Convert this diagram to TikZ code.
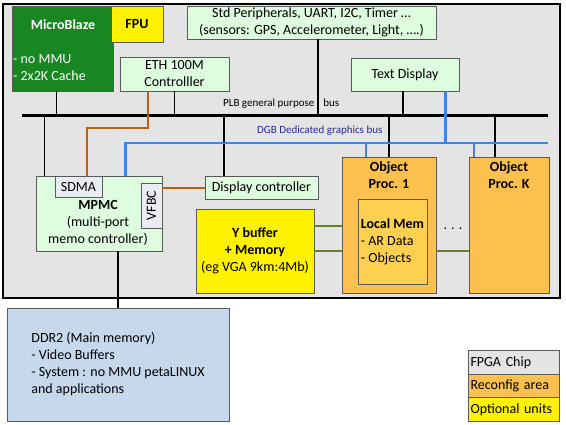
\documentclass[tikz,border=0pt]{standalone}
\usepackage{fontspec}
\setmainfont{Carlito}
\usetikzlibrary{positioning}
\definecolor{chipgray}{RGB}{228,228,228}
\definecolor{mbgreen}{RGB}{24,135,34}
\definecolor{pastelgreen}{RGB}{222,252,222}
\definecolor{sdmagray}{RGB}{234,236,244}
\definecolor{reconf}{RGB}{252,192,78}
\definecolor{localmem}{RGB}{254,208,80}
\definecolor{ddrblue}{RGB}{198,217,236}
\definecolor{ethbrown}{RGB}{184,98,18}
\definecolor{dgbblue}{RGB}{62,130,236}
\definecolor{linkolive}{RGB}{104,126,48}
\definecolor{dgbnavy}{RGB}{40,40,150}
\definecolor{boxline}{RGB}{90,90,90}
\newcommand\diatext{\fontsize{14}{17}\selectfont}
\newcommand\diasmall{\fontsize{11}{13}\selectfont}
\begin{document}
\begin{tikzpicture}[x=1pt,y=-1pt,
    every node/.style={font=\diatext,inner sep=2pt},
    box/.style={draw=boxline,line width=0.8pt,align=center},
    pgreen/.style={box,fill=pastelgreen,inner ysep=1pt},
    legbox/.style={box,minimum width=91,minimum height=23.5,inner xsep=2.5pt,text width=86,align=left},
    plbline/.style={line width=3pt},
    tapline/.style={line width=1.6pt},
    dgbline/.style={dgbblue,line width=2.6pt},
    ethline/.style={ethbrown,line width=2pt},
    memline/.style={linkolive,line width=2pt}]
  \useasboundingbox (0,0) rectangle (566,424);
  \node[box,fill=chipgray,draw=black,line width=2.5pt,minimum width=557,minimum height=294] (chip) at (281.5,151) {};
  \coordinate (plbW) at (22,115);
  \coordinate (plbE) at (548,115);
  \coordinate (dgbE) at (548,143);

  \node[box,fill=mbgreen,minimum width=101,minimum height=85] (mb) at (62.5,48.5) {};
  \node[font=\diatext\bfseries,text=white] (mbname) at (63,25) {MicroBlaze};
  \node[text=white,anchor=west,align=left,inner sep=1pt] (mbnotes) at (12,67.5) {- no MMU\\- 2x2K Cache};
  \node[box,fill=yellow,minimum width=52,minimum height=36,font=\diatext\bfseries] (fpu) at (137,24) {FPU};
  \node[pgreen,minimum width=109,minimum height=34] (eth) at (174.5,74) {ETH 100M\\Controlller};
  \node[pgreen,minimum width=249,minimum height=33] (periph) at (311.5,22.5) {Std Peripherals, UART, I2C, Timer …\\(sensors: GPS, Accelerometer, Light, ….)};
  \node[pgreen,minimum width=108,minimum height=33] (txtdisp) at (405,74.5) {Text Display};

  \node[font=\diasmall,anchor=west] (plblabel) at (221,104) {PLB general purpose\hspace{9pt}bus};
  \node[font=\diasmall,text=dgbnavy,anchor=west] (dgblabel) at (255,131) {DGB Dedicated graphics bus};

  \node[pgreen,minimum width=126,minimum height=75] (mpmc) at (99,213.5) {};
  \node[align=center] (mpmcname) at (98,223) {\textbf{MPMC}\\(multi-port\\memo controller)};
  \node[box,fill=sdmagray,minimum width=47,minimum height=21] (sdma) at (78.5,186.5) {SDMA};
  \node[box,fill=sdmagray,minimum width=45,minimum height=21,rotate=90] (vfbc) at (151.5,205.5) {VFBC};
  \node[pgreen,minimum width=113,minimum height=23] (dispctl) at (261.5,187.5) {Display controller};
  \node[box,fill=yellow,minimum width=118,minimum height=84] (ybuf) at (255,251) {\textbf{Y buffer}\\\textbf{+ Memory}\\(eg VGA 9km:4Mb)};

  \node[box,fill=reconf,minimum width=94,minimum height=136] (obj1) at (389,225) {};
  \node[font=\diatext\bfseries,align=center,below=3pt of obj1.north] (obj1name) {Object\\Proc. 1};
  \node[box,fill=reconf,minimum width=80,minimum height=136] (objK) at (509,225) {};
  \node[font=\diatext\bfseries,align=center,below=3pt of objK.north] (objKname) {Object\\Proc. K};
  \node[box,fill=localmem,minimum width=69,minimum height=85,align=left] (lmem) at (392.5,241.5) {\textbf{Local Mem}\\- AR Data\\- Objects};
  \node (dots) at (453,229) {.\hspace{4pt}.\hspace{4pt}.};

  \node[box,fill=ddrblue,minimum width=222,minimum height=113,align=left] (ddr) at (118,364.5) {DDR2 (Main memory)\\- Video Buffers\\- System : no MMU petaLINUX\\and applications};

  \node[legbox,fill=chipgray] (legchip) at (513.5,362.5) {FPGA Chip};
  \node[legbox,fill=reconf] (legreconf) at (513.5,386) {Reconfig area};
  \node[legbox,fill=yellow] (legopt) at (513.5,409.5) {Optional units};

  \draw[plbline] (plbW) -- (plbE);
  \draw[tapline] ([xshift=-6]mb.south) -- ([xshift=-6]mb.south |- plbW);
  \draw[tapline] (eth.south) -- (eth.south |- plbW);
  \draw[tapline] ([xshift=6.5]periph.south) -- ([xshift=6.5]periph.south |- plbW);
  \draw[tapline] ([xshift=-2]txtdisp.south) -- ([xshift=-2]txtdisp.south |- plbW);
  \draw[tapline] ([xshift=9]mpmc.north west) -- ([xshift=9]mpmc.north west |- plbW);
  \draw[tapline] ([xshift=-37.5]dispctl.north) -- ([xshift=-37.5]dispctl.north |- plbW);
  \draw[tapline] (obj1.north) -- (obj1.north |- plbW);
  \draw[tapline] ([xshift=-14]objK.north) -- ([xshift=-14]objK.north |- plbW);
  \draw[tapline] (ddr.north) -- (ddr.north |- mpmc.south);

  \draw[dgbline] ([xshift=-37]mpmc.north east) |- (dgbE);
  \draw[dgbline] ([xshift=-14]txtdisp.south east) -- ([xshift=-14]txtdisp.south east |- dgbE);
  \draw[dgbline] ([xshift=-23]obj1.north) -- ([xshift=-23]obj1.north |- dgbE);
  \draw[dgbline] ([xshift=-35]objK.north) -- ([xshift=-35]objK.north |- dgbE);

  \draw[ethline] ([xshift=-26.5]eth.south) -- ++(0,37) -| ([xshift=8.5]sdma.north);
  \draw[ethline] (dispctl.west) -- (dispctl.west -| vfbc.south);

  \draw[memline] (ybuf.east) -- (ybuf.east -| obj1.west);
  \draw[memline] ([yshift=25]ybuf.east) -- ([yshift=25]ybuf.east -| obj1.west);
  \draw[memline] ([yshift=-26]obj1.east) -- ([yshift=-26]obj1.east -| objK.west);
\end{tikzpicture}
\end{document}
